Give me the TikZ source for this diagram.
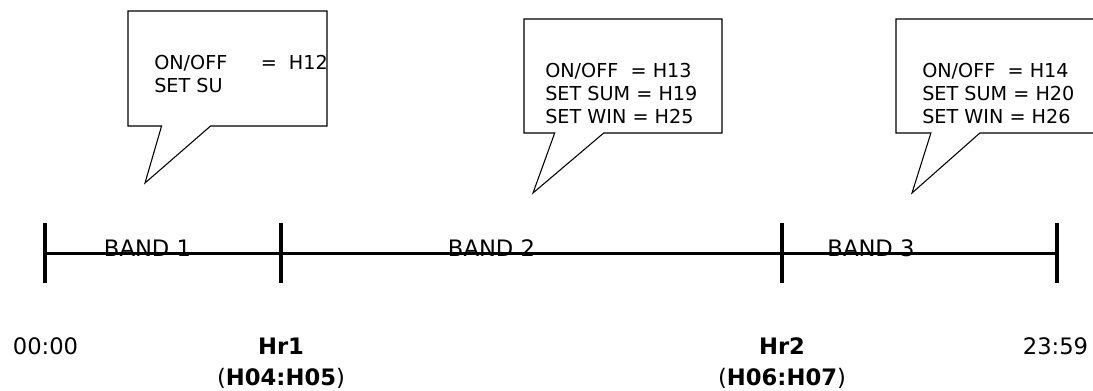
\documentclass[tikz,border=0pt]{standalone}
\usepackage{fontspec}
\setmainfont{DejaVu Sans}
\usetikzlibrary{shapes.callouts,calc}

\begin{document}
\begin{tikzpicture}[x=0.75pt,y=-0.75pt,
  bubble/.style={rectangle callout,draw,line width=0.8pt,fill=white,
    inner sep=0pt,outer sep=0pt,callout pointer width=36.75pt},
  bubbletext/.style={anchor=north west,inner sep=0pt,align=left,
    font=\fontsize{14.4}{17.25}\selectfont},
  timeline/.style={line width=2.25pt},
  bandtick/.style={line width=2.6pt},
  bandlabel/.style={anchor=base,inner sep=0pt,font=\fontsize{17}{20}\selectfont},
  timelabel/.style={anchor=base,inner sep=0pt,font=\fontsize{17}{20}\selectfont}]
  \useasboundingbox (0,0) rectangle (1093,390);

  % speech bubbles
  \node[bubble,minimum width=149.25pt,minimum height=86.25pt,
    callout absolute pointer={(145,183)}] (bubbleA) at (227.5,68.5) {};
  \node[bubble,minimum width=148.5pt,minimum height=85.5pt,
    callout absolute pointer={(533,193)}] (bubbleB) at (623,76) {};
  \node[bubble,minimum width=150.75pt,minimum height=85.5pt,
    callout absolute pointer={(912,193)}] (bubbleC) at (996.5,76) {};
  \node[bubbletext] (textA) at (154,55)
    {\makebox[80pt][l]{ON/OFF}\makebox[21pt][l]{=}H12\\SET SU};
  \node[bubbletext] (textB) at (545,63)
    {ON/OFF\ \ = H13\\SET SUM = H19\\SET WIN = H25};
  \node[bubbletext] (textC) at (922,63)
    {ON/OFF\ \ = H14\\SET SUM = H20\\SET WIN = H26};

  % bands
  \node[bandlabel] (bandA) at (147.5,256) {BAND 1};
  \node[bandlabel] (bandB) at (491.5,256) {BAND 2};
  \node[bandlabel] (bandC) at (871,256) {BAND 3};

  % time line
  \coordinate (t0) at (45,253);
  \coordinate (t1) at (281,253);
  \coordinate (t2) at (782,253);
  \coordinate (t3) at (1057,253);
  \draw[timeline] (t0) -- (t3);
  \foreach \t in {t0,t1,t2,t3}
    \draw[bandtick] ($(\t)+(0,-30)$) -- ($(\t)+(0,30)$);

  % hours
  \node[timelabel] (start) at (45.5,354) {00:00};
  \node[timelabel] (hrA) at (281,354) {\textbf{Hr1}};
  \node[timelabel] (hrAcode) at (281,385) {(\textbf{H04:H05})};
  \node[timelabel] (hrB) at (782,354) {\textbf{Hr2}};
  \node[timelabel] (hrBcode) at (782,385) {(\textbf{H06:H07})};
  \node[timelabel] (finish) at (1055.5,354) {23:59};
\end{tikzpicture}
\end{document}
